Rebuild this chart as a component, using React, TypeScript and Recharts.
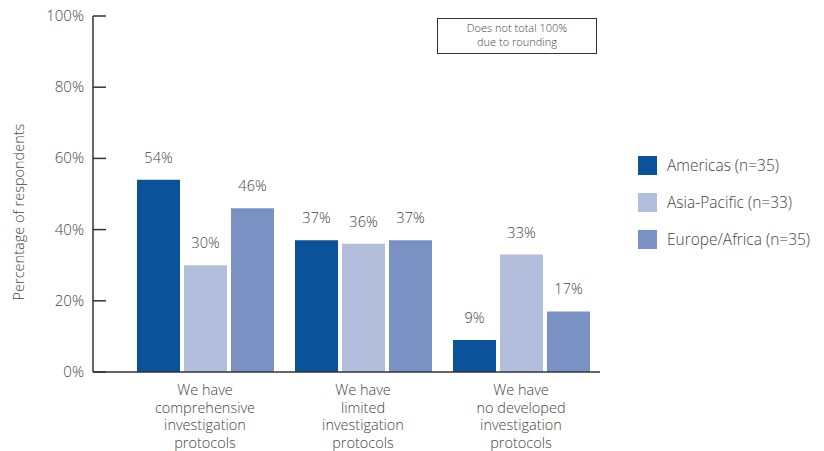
import { BarChart, Bar, XAxis, YAxis, Legend, LabelList } from 'recharts'

const categories = [
  'We have\ncomprehensive\ninvestigation\nprotocols',
  'We have\nlimited\ninvestigation\nprotocols',
  'We have\nno developed\ninvestigation\nprotocols',
]
const americas = [54, 37, 9]
const asiaPacific = [30, 36, 33]
const europeAfrica = [46, 37, 17]
const yTicks = [0, 20, 40, 60, 80, 100]

const seriesInfo = [
  { key: 'americas', name: 'Americas (n=35)', color: '#0A5299' },
  { key: 'asiaPacific', name: 'Asia-Pacific (n=33)', color: '#B3BEDD' },
  { key: 'europeAfrica', name: 'Europe/Africa (n=35)', color: '#7A91C4' },
]

const data = categories.map((name, i) => ({
  name,
  americas: americas[i],
  asiaPacific: asiaPacific[i],
  europeAfrica: europeAfrica[i],
}))

const FONT = '"Open Sans", "Liberation Sans", sans-serif'
const TEXT = '#444'
const AXIS = '#333'

function YTick({ x, y, payload }: any) {
  return (
    <g>
      <line x1={x} x2={x + 13} y1={y} y2={y} stroke={AXIS} strokeWidth={1.5} />
      <text x={x - 9} y={y} dy={5} textAnchor="end" fontSize={15} fill={TEXT} fontFamily={FONT} fontWeight={300}>
        {payload.value}%
      </text>
    </g>
  )
}

function XTick({ x, y, payload }: any) {
  const lines = String(payload.value).split('\n')
  return (
    <text x={x} y={y + 23} textAnchor="middle" fontSize={14.5} fill={TEXT} fontFamily={FONT} fontWeight={300}>
      {lines.map((l, i) => (
        <tspan key={i} x={x} dy={i === 0 ? 0 : 17.6}>
          {l}
        </tspan>
      ))}
    </text>
  )
}

function YLabel({ viewBox }: any) {
  const cx = viewBox.x - 15
  const cy = viewBox.y + viewBox.height / 2 + 18
  return (
    <text x={cx} y={cy} transform={`rotate(-90, ${cx}, ${cy})`} textAnchor="middle" dominantBaseline="central"
      fontSize={14.5} fill={TEXT} fontFamily={FONT} fontWeight={300}>
      Percentage of respondents
    </text>
  )
}

function LegendBox() {
  return (
    <div style={{ fontFamily: FONT, fontWeight: 300, fontSize: 15.5, color: TEXT }}>
      {seriesInfo.map((s) => (
        <div key={s.key} style={{ display: 'flex', alignItems: 'center', height: 20, marginBottom: 17 }}>
          <div style={{ width: 19, height: 19, background: s.color, marginRight: 10 }} />
          <span style={{ whiteSpace: 'nowrap' }}>{s.name}</span>
        </div>
      ))}
    </div>
  )
}

export default function App() {
  return (
    <div style={{ position: 'absolute', left: 0, top: 0, width: 824, height: 451, background: '#fff' }}>
      <BarChart
        width={824}
        height={451}
        data={data}
        margin={{ top: 16, right: 224, bottom: 9, left: 33 }}
        barCategoryGap={11}
        barGap={4}
      >
        <XAxis
          dataKey="name"
          interval={0}
          height={70}
          tickSize={0}
          tickMargin={0}
          tickLine={false}
          axisLine={{ stroke: AXIS, strokeWidth: 1.5 }}
          padding={{ left: 33, right: 0 }}
          tick={<XTick />}
        />
        <YAxis
          width={60}
          domain={[0, 100]}
          ticks={yTicks}
          interval={0}
          tickSize={0}
          tickMargin={0}
          tickLine={false}
          axisLine={{ stroke: AXIS, strokeWidth: 1.5 }}
          tick={<YTick />}
          label={<YLabel />}
        />
        <Legend
          layout="horizontal"
          verticalAlign="middle"
          align="center"
          wrapperStyle={{ left: 638, top: 155, width: 185 }}
          content={<LegendBox />}
        />
        {seriesInfo.map((s) => (
          <Bar key={s.key} dataKey={s.key} name={s.name} fill={s.color} isAnimationActive={false}>
            <LabelList
              dataKey={s.key}
              position="top"
              offset={17}
              formatter={(v: any) => `${v}%`}
              style={{ fontSize: 14.5, fill: TEXT, fontFamily: FONT, fontWeight: 300 }}
            />
          </Bar>
        ))}
      </BarChart>
      <div
        style={{
          position: 'absolute',
          left: 437,
          top: 18,
          width: 158,
          height: 32,
          border: `1.5px solid ${AXIS}`,
          fontFamily: FONT,
          fontWeight: 300,
          fontSize: 11,
          lineHeight: '14px',
          color: TEXT,
          textAlign: 'center',
          paddingTop: 2,
          boxSizing: 'content-box',
        }}
      >
        Does not total 100%
        <br />
        due to rounding
      </div>
    </div>
  )
}
